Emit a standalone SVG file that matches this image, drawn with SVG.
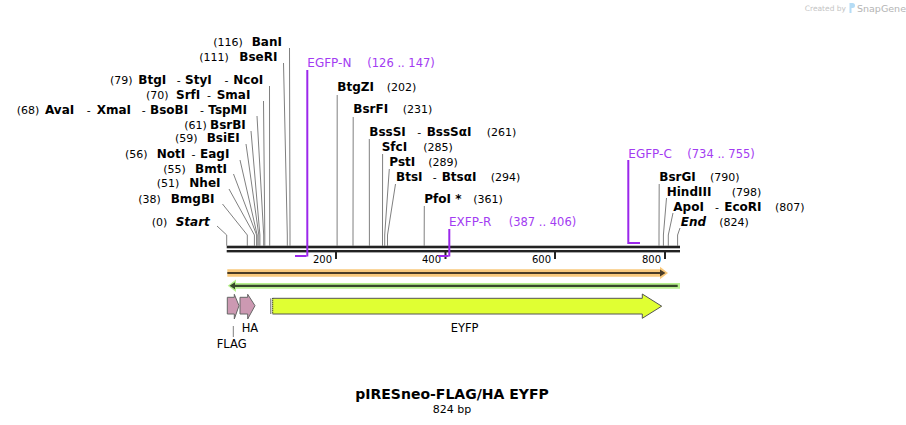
<svg xmlns="http://www.w3.org/2000/svg" width="906" height="425" viewBox="0 0 906 425">
<style>
text{font-family:"DejaVu Sans",Verdana,sans-serif;fill:#000}
.n{font-size:11px}
.b{font-size:12px;font-weight:bold}
.bi{font-size:12px;font-weight:bold;font-style:italic}
.p{font-size:12px;fill:#a33cf2}
.pn{font-size:11.5px;fill:#a33cf2}
.t{font-size:10px}
.f{font-size:11.5px}
.cut{fill:none;stroke:#808080;stroke-width:1}
.pr{fill:none;stroke:#9b27eb;stroke-width:2}
</style>
<rect width="906" height="425" fill="#fff"/>
<g id="watermark">
<text x="846" y="11" text-anchor="end" style="font-size:7.5px;fill:#c4c4c4">Created by</text>
<path d="M849.5,3 h3 a2.5,2.5 0 0 1 0,5 h-1 v5 h-2 z" fill="#b5dcf5"/>
<text x="857" y="12" style="font-size:9.5px;fill:#b4b4b4">SnapGene</text>
</g>
<g id="connectors">
<polyline class="cut" points="289.5,48 290,235 290,245.7"/>
<polyline class="cut" points="283.5,63 287.3,235 287.3,245.7"/>
<polyline class="cut" points="269.5,86 269.7,235 269.7,245.7"/>
<polyline class="cut" points="263.5,101 264.8,235 264.8,245.7"/>
<polyline class="cut" points="257,116 263.7,235 263.7,245.7"/>
<polyline class="cut" points="251,131 259.9,235 259.9,245.7"/>
<polyline class="cut" points="246,144 258.8,235 258.8,245.7"/>
<polyline class="cut" points="240,160 257.2,235 257.2,245.7"/>
<polyline class="cut" points="233.5,174 256.6,235 256.6,245.7"/>
<polyline class="cut" points="229,189 254.4,235 254.4,245.7"/>
<polyline class="cut" points="222.5,204 247.3,235 247.3,245.7"/>
<polyline class="cut" points="217,226 226.7,235 226.7,245.7"/>
<polyline class="cut" points="337.2,95 337.1,235 337.1,245.7"/>
<polyline class="cut" points="353.2,117 353,235 353,245.7"/>
<polyline class="cut" points="369.3,139 369.4,235 369.4,245.7"/>
<polyline class="cut" points="382.6,154 382.5,235 382.5,245.7"/>
<polyline class="cut" points="389.3,169 384.7,235 384.7,245.7"/>
<polyline class="cut" points="395.5,184 387.5,235 387.5,245.7"/>
<polyline class="cut" points="424.3,206 424.2,235 424.2,245.7"/>
<polyline class="cut" points="659.2,184 659,235 659,245.7"/>
<polyline class="cut" points="666.5,198 663.4,235 663.4,245.7"/>
<polyline class="cut" points="673,213 668.3,235 668.3,245.7"/>
<polyline class="cut" points="680,228 677.6,235 677.6,245.7"/>
<line x1="233.3" y1="326" x2="233.3" y2="337" stroke="#808080" stroke-width="1"/>
</g>
<g id="backbone">
<rect x="226.7" y="245.7" width="453.3" height="2.6" fill="#222"/>
<rect x="226.7" y="250" width="453.3" height="2.4" fill="#222"/>
<rect x="335" y="252" width="2" height="7" fill="#222"/>
<rect x="444.5" y="252" width="2" height="7" fill="#222"/>
<rect x="554" y="252" width="2" height="7" fill="#222"/>
<rect x="664" y="252" width="2" height="7" fill="#222"/>
<text class="t" x="332" y="262.7" text-anchor="end">200</text>
<text class="t" x="441" y="262.7" text-anchor="end">400</text>
<text class="t" x="551" y="262.7" text-anchor="end">600</text>
<text class="t" x="661" y="262.7" text-anchor="end">800</text>
</g>
<g id="enzymes-left">
<text y="46"><tspan class="n" x="213.3">(116)</tspan><tspan class="b" x="251.7">BanI</tspan></text>
<text y="61"><tspan class="n" x="199.3">(111)</tspan><tspan class="b" x="239.3">BseRI</tspan></text>
<text y="84"><tspan class="n" x="110">(79)</tspan><tspan class="b" x="138.3">BtgI</tspan><tspan class="n" x="176.7">-</tspan><tspan class="b" x="185">StyI</tspan><tspan class="n" x="224.5">-</tspan><tspan class="b" x="233.3">NcoI</tspan></text>
<text y="99"><tspan class="n" x="146">(70)</tspan><tspan class="b" x="176">SrfI</tspan><tspan class="n" x="207">-</tspan><tspan class="b" x="216.7">SmaI</tspan></text>
<text y="114"><tspan class="n" x="16.7">(68)</tspan><tspan class="b" x="45">AvaI</tspan><tspan class="n" x="86.7">-</tspan><tspan class="b" x="96.7">XmaI</tspan><tspan class="n" x="141.7">-</tspan><tspan class="b" x="150">BsoBI</tspan><tspan class="n" x="200">-</tspan><tspan class="b" x="208.3">TspMI</tspan></text>
<text y="129"><tspan class="n" x="184.3">(61)</tspan><tspan class="b" x="210">BsrBI</tspan></text>
<text y="142"><tspan class="n" x="175">(59)</tspan><tspan class="b" x="206.7">BsiEI</tspan></text>
<text y="158"><tspan class="n" x="125">(56)</tspan><tspan class="b" x="156.7">NotI</tspan><tspan class="n" x="191.5">-</tspan><tspan class="b" x="200">EagI</tspan></text>
<text y="173"><tspan class="n" x="163.3">(55)</tspan><tspan class="b" x="195">BmtI</tspan></text>
<text y="187"><tspan class="n" x="156.7">(51)</tspan><tspan class="b" x="189.3">NheI</tspan></text>
<text y="203"><tspan class="n" x="138.3">(38)</tspan><tspan class="b" x="170.7">BmgBI</tspan></text>
<text y="225.5"><tspan class="n" x="151.7">(0)</tspan><tspan class="bi" x="175.7">Start</tspan></text>
</g>
<g id="enzymes-right">
<text class="b" x="337.3" y="90.5">BtgZI</text><text class="n" x="386.7" y="90.5">(202)</text>
<text class="b" x="353.3" y="113">BsrFI</text><text class="n" x="402.7" y="113">(231)</text>
<text y="135.5"><tspan class="b" x="369.3">BssSI</tspan><tspan class="n" x="417.3">-</tspan><tspan class="b" x="426.7">BssSαI</tspan></text><text class="n" x="486.7" y="135.5">(261)</text>
<text class="b" x="381.7" y="150.5">SfcI</text><text class="n" x="423.3" y="150.5">(285)</text>
<text class="b" x="389.3" y="166">PstI</text><text class="n" x="428.3" y="166">(289)</text>
<text y="180.5"><tspan class="b" x="396">BtsI</tspan><tspan class="n" x="432.7">-</tspan><tspan class="b" x="441.7">BtsαI</tspan></text><text class="n" x="490.7" y="180.5">(294)</text>
<text class="b" x="424.3" y="203">PfoI *</text><text class="n" x="473.3" y="203">(361)</text>
<text class="b" x="659.3" y="180.5">BsrGI</text><text class="n" x="710" y="180.5">(790)</text>
<text class="b" x="666.7" y="195.5">HindIII</text><text class="n" x="731.7" y="195.5">(798)</text>
<text y="210.5"><tspan class="b" x="673.3">ApoI</tspan><tspan class="n" x="715">-</tspan><tspan class="b" x="724.3">EcoRI</tspan></text><text class="n" x="775" y="210.5">(807)</text>
<text class="bi" x="680.7" y="225.5">End</text><text class="n" x="719.3" y="225.5">(824)</text>
</g>
<g id="primer-EGFP-N">
<polyline class="pr" points="307.3,70 307.3,256.5"/>
<line class="pr" x1="295" y1="256" x2="306.5" y2="256"/>
<text class="p" x="307.3" y="67">EGFP-N</text><text class="pn" x="367.3" y="67">(126 .. 147)</text>
</g>
<g id="primer-EXFP-R">
<polyline class="pr" points="449.3,229 449.3,256.5"/>
<line class="pr" x1="438.4" y1="256" x2="448.5" y2="256"/>
<text class="p" x="449" y="225.5">EXFP-R</text><text class="pn" x="508.7" y="225.5">(387 .. 406)</text>
</g>
<g id="primer-EGFP-C">
<polyline class="pr" points="628.3,160 628.3,243 640,243"/>
<text class="p" x="628.3" y="158">EGFP-C</text><text class="pn" x="687.3" y="158">(734 .. 755)</text>
</g>
<g id="orange-arrow">
<path d="M227.3,269.3 H660 V266.8 L668,273 L660,279.2 V276.8 H227.3 Z" fill="#f9c97c"/>
<path d="M227.3,272 H660 V269.5 L665.5,273 L660,276.5 V274 H227.3 Z" fill="#000" fill-opacity="0.7"/>
</g>
<g id="green-arrow">
<path d="M680,283 H236 V279.6 L227.7,285.8 L236,292 V288.7 H680 Z" fill="#b8f18f"/>
<path d="M677.7,284.7 H235 V282.3 L229.5,285.8 L235,289.3 V287 H677.7 Z" fill="#000" fill-opacity="0.7"/>
</g>
<g id="FLAG">
<path d="M227.3,297.3 H234.3 V294.3 L239,305.7 L234.3,319 V314 H227.3 Z" fill="#cc99b2" stroke="#666" stroke-width="1"/>
<text class="f" x="216.7" y="347.5">FLAG</text>
</g>
<g id="HA">
<path d="M240,297.3 H247.7 V294.3 L255,305.7 L247.7,319 V314 H240 Z" fill="#cc99b2" stroke="#666" stroke-width="1"/>
<text class="f" x="241.7" y="332">HA</text>
</g>
<g id="EYFP">
<line x1="270.8" y1="298.3" x2="270.8" y2="314" stroke="#666" stroke-width="1"/>
<path d="M272.5,298.3 H642.3 V294 L661.7,306.2 L642.3,318.3 V314 H272.5" fill="#e0ff33" stroke="#555" stroke-width="1"/>
<line x1="272.7" y1="298.3" x2="272.7" y2="314" stroke="#000" stroke-width="1" stroke-dasharray="1,1"/>
<text class="f" x="450.7" y="332">EYFP</text>
</g>
<g id="title">
<text x="452" y="399" text-anchor="middle" style="font-size:14px;font-weight:bold">pIRESneo-FLAG/HA EYFP</text>
<text class="n" x="452" y="413" text-anchor="middle">824 bp</text>
</g>
</svg>
